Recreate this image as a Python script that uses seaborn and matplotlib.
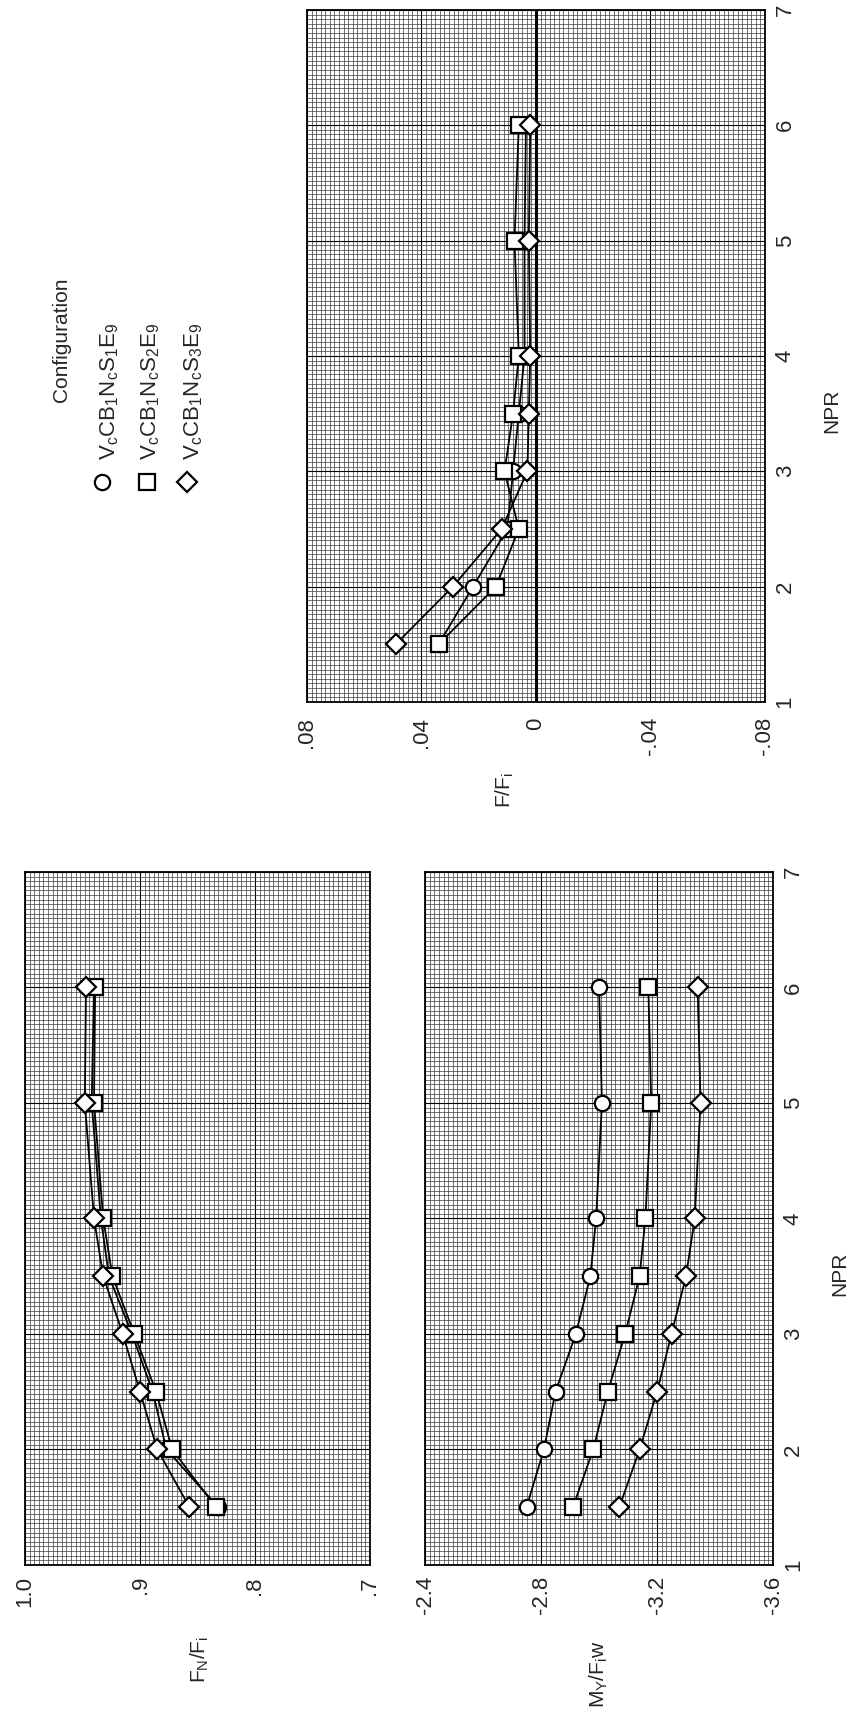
import numpy as np
import pandas as pd
import matplotlib
matplotlib.use("Agg")
import matplotlib.pyplot as plt
from matplotlib.lines import Line2D
from matplotlib.ticker import MultipleLocator
import seaborn as sns

# Values (NPR sweep, three nozzle configurations)
npr = [1.5, 2.0, 2.5, 3.0, 3.5, 4.0, 5.0, 6.0]

fn_circle = [0.832, 0.877, 0.889, 0.907, 0.927, 0.934, 0.942, 0.940]
fn_square = [0.834, 0.872, 0.886, 0.905, 0.924, 0.932, 0.940, 0.939]
fn_diamond = [0.857, 0.885, 0.900, 0.915, 0.932, 0.940, 0.948, 0.947]

my_circle = [-2.75, -2.81, -2.85, -2.92, -2.97, -2.99, -3.01, -3.00]
my_square = [-2.91, -2.98, -3.03, -3.09, -3.14, -3.16, -3.18, -3.17]
my_diamond = [-3.07, -3.14, -3.20, -3.25, -3.30, -3.33, -3.35, -3.34]

ff_circle = [0.034, 0.022, 0.010, 0.008, 0.006, 0.004, 0.004, 0.0035]
ff_square = [0.034, 0.014, 0.006, 0.011, 0.008, 0.006, 0.0075, 0.006]
ff_diamond = [0.049, 0.029, 0.012, 0.003, 0.0025, 0.002, 0.0025, 0.002]

markers = ['o', 's', 'D']
config_labels = [r'$\mathregular{V_cCB_1N_cS_1E_9}$',
                 r'$\mathregular{V_cCB_1N_cS_2E_9}$',
                 r'$\mathregular{V_cCB_1N_cS_3E_9}$']

npr_ticks = [1, 2, 3, 4, 5, 6, 7]
fn_ticks = [1.0, 0.9, 0.8, 0.7]
fn_ticklabels = ['1.0', '.9', '.8', '.7']
my_ticks = [-2.4, -2.8, -3.2, -3.6]
my_ticklabels = ['-2.4', '-2.8', '-3.2', '-3.6']
ff_ticks = [0.08, 0.04, 0.0, -0.04, -0.08]
ff_ticklabels = ['.08', '.04', '0', '-.04', '-.08']

sns.set_style("white")
plt.rcParams['font.family'] = ['Liberation Sans Narrow', 'Liberation Sans', 'DejaVu Sans']
plt.rcParams['mathtext.fontset'] = 'custom'

TICK_FS = 16
LABEL_FS = 15


def graph_paper(ax, xstep, n=25):
    # dense graph-paper grid, major lines on the labelled values
    ax.xaxis.set_minor_locator(MultipleLocator(xstep / n))
    ax.yaxis.set_minor_locator(MultipleLocator(1.0 / n))
    ax.set_axisbelow(True)
    ax.grid(which='minor', color='#3c3c3c', linewidth=0.5)
    ax.grid(which='major', color='black', linewidth=0.8)
    ax.tick_params(which='both', length=0)
    for sp in ax.spines.values():
        sp.set_color('black')
        sp.set_linewidth(1.3)


def draw_series(ax, series):
    for vals, m in zip(series, markers):
        sns.lineplot(x=vals, y=npr, ax=ax, sort=False, estimator=None,
                     color='black', linewidth=1.3, marker=m,
                     markersize=11 if m != 'D' else 10,
                     markerfacecolor='white', markeredgecolor='black',
                     markeredgewidth=1.6, legend=False)


def setup(ax, xlim, xticks, xticklabels, xstep, right_labels=True, xpad=8):
    ax.set_xlim(*xlim)
    ax.set_ylim(1, 7)
    ax.set_xticks(xticks, xticklabels)
    ax.set_yticks(npr_ticks, [str(t) for t in npr_ticks])
    graph_paper(ax, xstep)
    ax.tick_params(axis='x', labelrotation=90, labelsize=TICK_FS, pad=xpad)
    ax.yaxis.tick_right()
    ax.tick_params(axis='y', labelrotation=90, labelsize=TICK_FS, pad=7,
                   labelright=right_labels, labelleft=False)
    for lbl in ax.get_yticklabels():
        lbl.set_va('center')
    ax.set_ylabel('')
    ax.set_xlabel('')


fig = plt.figure(figsize=(8.48, 17.12), dpi=100)

ax_ff = fig.add_axes([0.3620, 0.5900, 0.5401, 0.4042])
ax_fn = fig.add_axes([0.0295, 0.0859, 0.4068, 0.4048])
ax_my = fig.add_axes([0.5012, 0.0859, 0.4104, 0.4048])

# F/F_i panel (top)
draw_series(ax_ff, [ff_circle, ff_square, ff_diamond])
ax_ff.axvline(0, color='black', linewidth=2.2, zorder=1.5)
setup(ax_ff, (0.08, -0.08), ff_ticks, ff_ticklabels, 0.04, xpad=11)
ax_ff.set_xlabel(r'$\mathregular{F/F_i}$', rotation=90, fontsize=LABEL_FS)
ax_ff.xaxis.set_label_coords(0.433, -0.128)
ax_ff.set_ylabel('NPR', rotation=90, fontsize=LABEL_FS)
ax_ff.yaxis.set_label_position('right')
ax_ff.yaxis.set_label_coords(1.146, 0.42)

# F_N/F_i panel (bottom left)
draw_series(ax_fn, [fn_circle, fn_square, fn_diamond])
setup(ax_fn, (1.0, 0.7), fn_ticks, fn_ticklabels, 0.1, right_labels=False)
ax_fn.set_xlabel(r'$\mathregular{F_N/F_i}$', rotation=90, fontsize=LABEL_FS)
ax_fn.xaxis.set_label_coords(0.507, -0.137)

# M_Y/F_i w panel (bottom right)
draw_series(ax_my, [my_circle, my_square, my_diamond])
setup(ax_my, (-2.4, -3.6), my_ticks, my_ticklabels, 0.4)
ax_my.set_xlabel(r'$\mathregular{M_Y/F_iw}$', rotation=90, fontsize=LABEL_FS)
ax_my.xaxis.set_label_coords(0.5, -0.158)
ax_my.set_ylabel('NPR', rotation=90, fontsize=LABEL_FS)
ax_my.yaxis.set_label_position('right')
ax_my.yaxis.set_label_coords(1.193, 0.42)

for ax in (ax_ff, ax_fn, ax_my):
    ax.xaxis.label.set_va('center')
    ax.xaxis.label.set_ha('center')
    ax.yaxis.label.set_va('center')
    ax.yaxis.label.set_ha('center')

# Legend, drawn rotated like the rest of the page
fig.text(62 / 848, 1 - 402 / 1712, 'Configuration', rotation=90,
         ha='center', va='bottom', fontsize=LABEL_FS)
legend_x = [102, 147, 187]
text_x = [110, 151, 194]
for m, lx, tx, lab in zip(markers, legend_x, text_x, config_labels):
    fig.add_artist(Line2D([lx / 848], [1 - 482 / 1712], transform=fig.transFigure,
                          marker=m, markersize=11 if m != 'D' else 10,
                          markerfacecolor='white', markeredgecolor='black',
                          markeredgewidth=1.6, linestyle='none'))
    fig.text(tx / 848, 1 - 460 / 1712, lab, rotation=90,
             ha='center', va='bottom', fontsize=LABEL_FS + 1)

fig.savefig('out.png', dpi=100)
